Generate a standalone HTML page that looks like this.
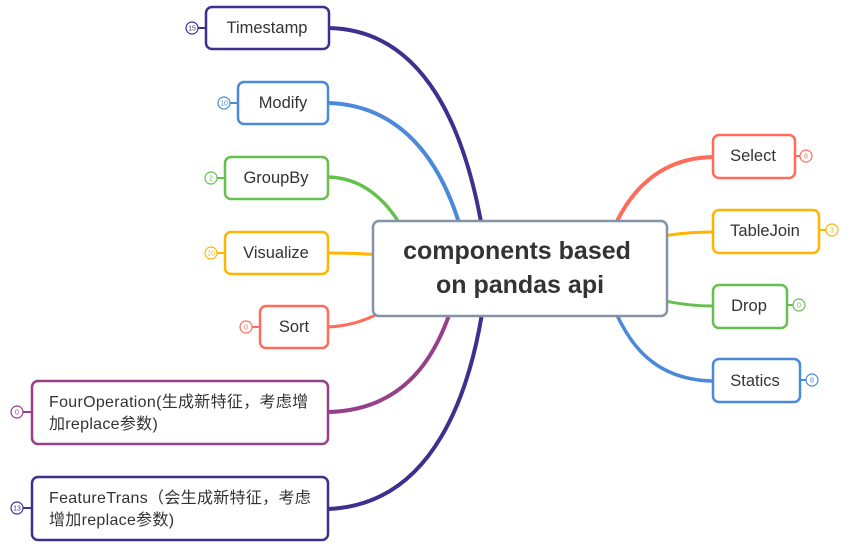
<!DOCTYPE html>
<html><head><meta charset="utf-8"><style>
html,body{margin:0;padding:0;background:#fff;}
svg{display:block}
text{font-family:"Liberation Sans","Noto Sans CJK SC",sans-serif;fill:#333;}
</style></head><body>
<svg width="858" height="553" viewBox="0 0 858 553" xmlns="http://www.w3.org/2000/svg">
<g fill="none" stroke-linecap="round">
<path d="M329,28 C420,30 470,120 488,268" stroke="#3f2f8f" stroke-width="4"/>
<path d="M328,103 C400,105 450,160 470,268" stroke="#4a8ad8" stroke-width="4"/>
<path d="M328,177 C370,178 400,210 420,268" stroke="#66c04f" stroke-width="3.5"/>
<path d="M328,253 C370,253 400,256 430,262" stroke="#ffb400" stroke-width="3"/>
<path d="M328,327 C370,325 400,305 430,268" stroke="#ff6c5a" stroke-width="3"/>
<path d="M328,412 C410,410 445,350 462,268" stroke="#97408a" stroke-width="4"/>
<path d="M328,509 C430,505 475,400 488,268" stroke="#3f2f8f" stroke-width="4"/>
<path d="M713,157 C660,158 620,190 600,268" stroke="#ff6c5a" stroke-width="4"/>
<path d="M713,232 C680,232 660,236 620,245" stroke="#ffb400" stroke-width="3"/>
<path d="M713,306 C680,306 660,300 620,290" stroke="#66c04f" stroke-width="3"/>
<path d="M713,381 C650,380 620,340 600,268" stroke="#4a8ad8" stroke-width="3.5"/>
</g>
<rect x="373" y="221" width="294" height="95" rx="6" fill="#fff" stroke="#8593a8" stroke-width="2.5"/>
<text x="517" y="259" font-size="25" font-weight="bold" text-anchor="middle">components based</text>
<text x="520" y="293" font-size="25" font-weight="bold" text-anchor="middle">on pandas api</text>
<g stroke-width="2.5" fill="#fff">
<rect x="206" y="7" width="123" height="42" rx="6" stroke="#3f2f8f"/>
<rect x="238" y="82" width="90" height="42" rx="6" stroke="#4a8ad8"/>
<rect x="225" y="157" width="103" height="42" rx="6" stroke="#66c04f"/>
<rect x="225" y="232" width="103" height="42" rx="6" stroke="#ffb400"/>
<rect x="260" y="306" width="68" height="42" rx="6" stroke="#ff6c5a"/>
<rect x="32" y="381" width="296" height="63" rx="6" stroke="#97408a"/>
<rect x="32" y="477" width="296" height="63" rx="6" stroke="#3f2f8f"/>
<rect x="713" y="135" width="82" height="43" rx="6" stroke="#ff6c5a"/>
<rect x="713" y="210" width="106" height="43" rx="6" stroke="#ffb400"/>
<rect x="713" y="285" width="74" height="43" rx="6" stroke="#66c04f"/>
<rect x="713" y="359" width="87" height="43" rx="6" stroke="#4a8ad8"/>
</g>
<g font-size="16.5">
<text x="267" y="33" text-anchor="middle">Timestamp</text>
<text x="283" y="108" text-anchor="middle">Modify</text>
<text x="276" y="183" text-anchor="middle">GroupBy</text>
<text x="276" y="258" text-anchor="middle">Visualize</text>
<text x="294" y="332" text-anchor="middle">Sort</text>
<text x="753" y="161" text-anchor="middle">Select</text>
<text x="765" y="236" text-anchor="middle">TableJoin</text>
<text x="749" y="311" text-anchor="middle">Drop</text>
<text x="755" y="386" text-anchor="middle">Statics</text>
</g>
<g font-size="16" letter-spacing="0.3">
<text x="49" y="407">FourOperation(生成新特征，考虑增</text>
<text x="49" y="429">加replace参数)</text>
<text x="49" y="503">FeatureTrans（会生成新特征，考虑</text>
<text x="49" y="525">增加replace参数)</text>
</g>
<g stroke-width="1.2" fill="#fff" font-size="7">
<line x1="198" y1="28" x2="206" y2="28" stroke="#3f2f8f" stroke-width="2"/><circle cx="192" cy="28" r="6" stroke="#3f2f8f"/><text x="192" y="30.5" text-anchor="middle" style="fill:#3f2f8f">15</text>
<line x1="230" y1="103" x2="238" y2="103" stroke="#4a8ad8" stroke-width="2"/><circle cx="224" cy="103" r="6" stroke="#4a8ad8"/><text x="224" y="105.5" text-anchor="middle" style="fill:#4a8ad8">10</text>
<line x1="217" y1="178" x2="225" y2="178" stroke="#66c04f" stroke-width="2"/><circle cx="211" cy="178" r="6" stroke="#66c04f"/><text x="211" y="180.5" text-anchor="middle" style="fill:#66c04f">2</text>
<line x1="217" y1="253" x2="225" y2="253" stroke="#ffb400" stroke-width="2"/><circle cx="211" cy="253" r="6" stroke="#ffb400"/><text x="211" y="255.5" text-anchor="middle" style="fill:#ffb400">10</text>
<line x1="252" y1="327" x2="260" y2="327" stroke="#ff6c5a" stroke-width="2"/><circle cx="246" cy="327" r="6" stroke="#ff6c5a"/><text x="246" y="329.5" text-anchor="middle" style="fill:#ff6c5a">0</text>
<line x1="23" y1="412" x2="32" y2="412" stroke="#97408a" stroke-width="2"/><circle cx="17" cy="412" r="6" stroke="#97408a"/><text x="17" y="414.5" text-anchor="middle" style="fill:#97408a">0</text>
<line x1="23" y1="508" x2="32" y2="508" stroke="#3f2f8f" stroke-width="2"/><circle cx="17" cy="508" r="6" stroke="#3f2f8f"/><text x="17" y="510.5" text-anchor="middle" style="fill:#3f2f8f">13</text>
<line x1="795" y1="156" x2="800" y2="156" stroke="#ff6c5a" stroke-width="2"/><circle cx="806" cy="156" r="6" stroke="#ff6c5a"/><text x="806" y="158.5" text-anchor="middle" style="fill:#ff6c5a">8</text>
<line x1="819" y1="230" x2="826" y2="230" stroke="#ffb400" stroke-width="2"/><circle cx="832" cy="230" r="6" stroke="#ffb400"/><text x="832" y="232.5" text-anchor="middle" style="fill:#ffb400">3</text>
<line x1="787" y1="305" x2="793" y2="305" stroke="#66c04f" stroke-width="2"/><circle cx="799" cy="305" r="6" stroke="#66c04f"/><text x="799" y="307.5" text-anchor="middle" style="fill:#66c04f">0</text>
<line x1="800" y1="380" x2="806" y2="380" stroke="#4a8ad8" stroke-width="2"/><circle cx="812" cy="380" r="6" stroke="#4a8ad8"/><text x="812" y="382.5" text-anchor="middle" style="fill:#4a8ad8">8</text>
</g>
</svg>
</body></html>
